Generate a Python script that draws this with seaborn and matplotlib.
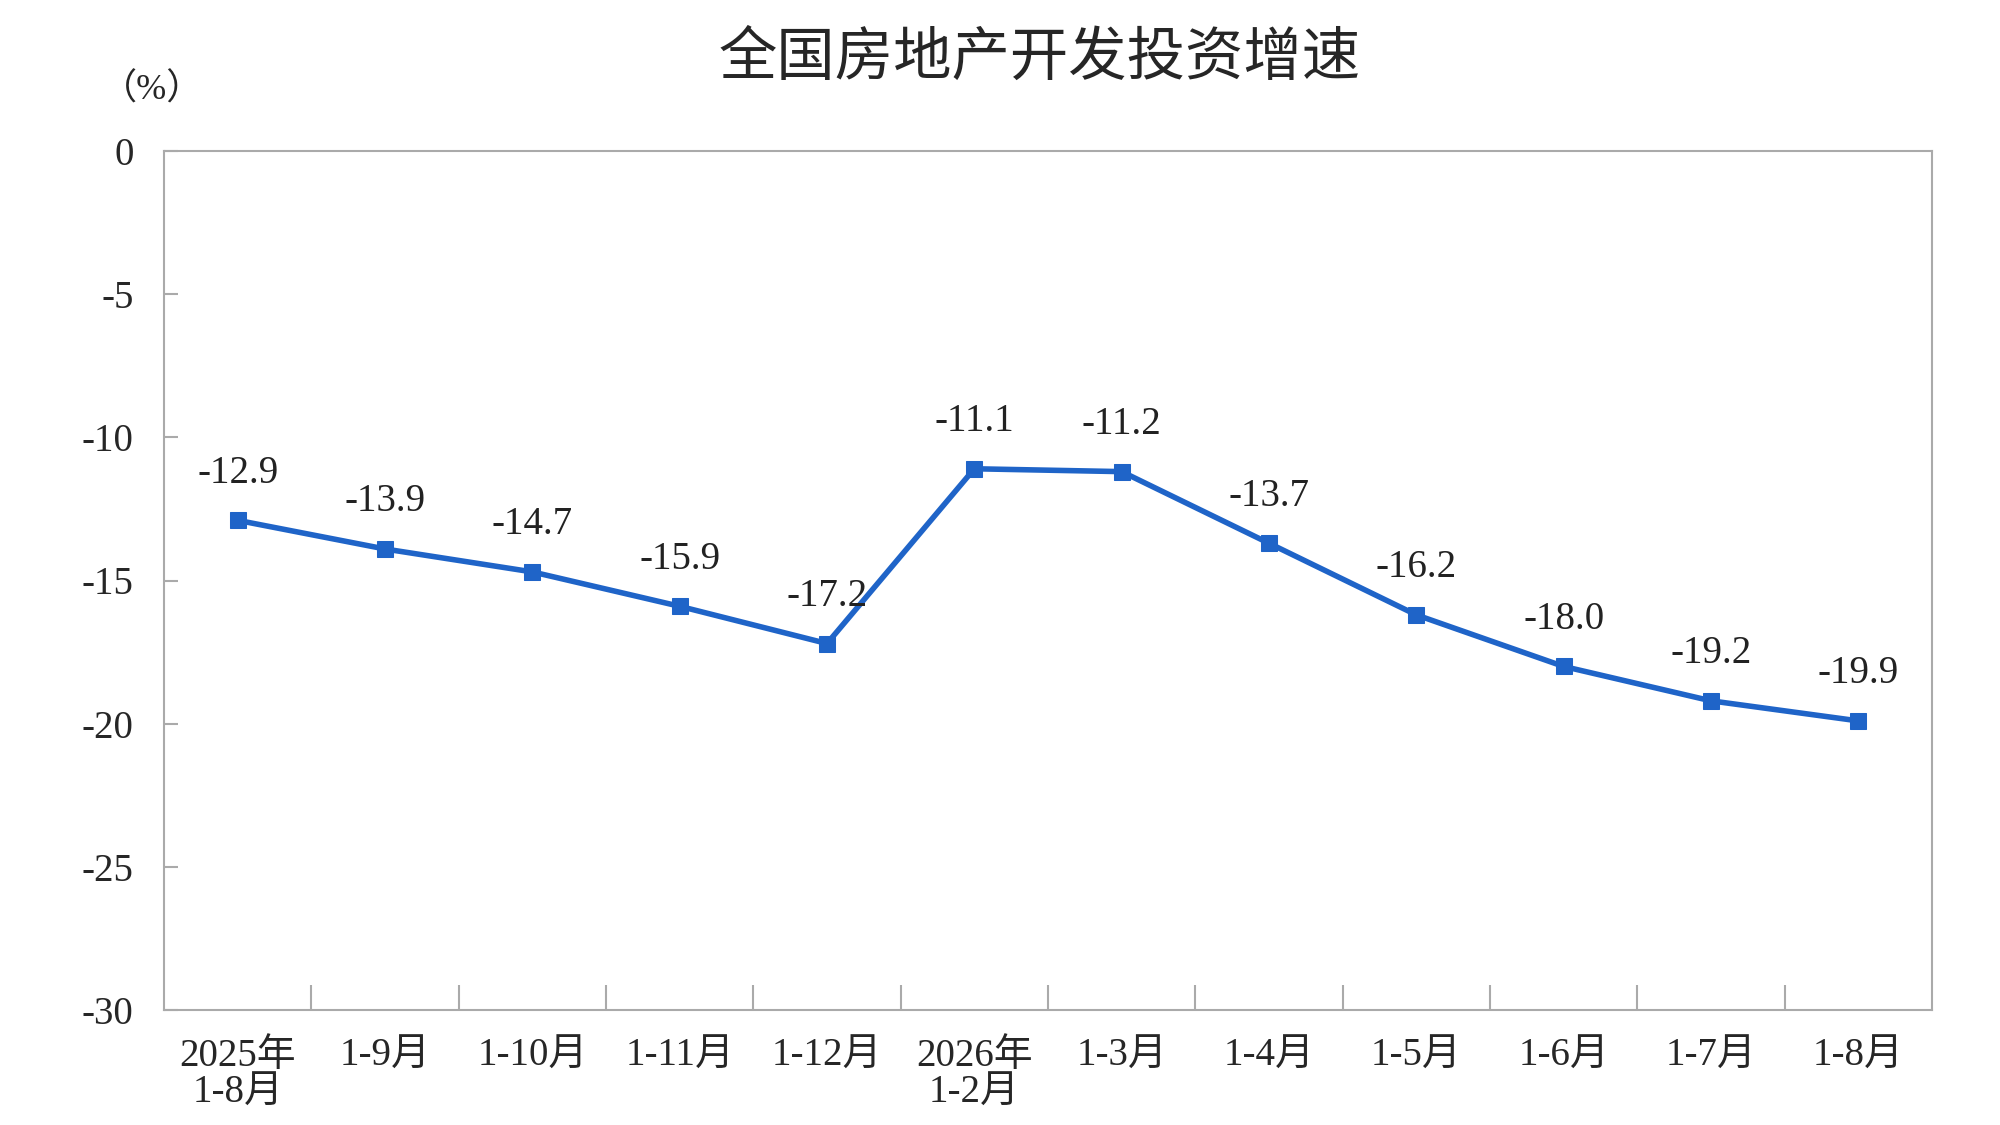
import matplotlib
matplotlib.use("Agg")
import matplotlib.pyplot as plt
import numpy as np
import pandas as pd
import seaborn as sns

months = ["2025年\n1-8月", "1-9月", "1-10月", "1-11月", "1-12月", "2026年\n1-2月",
          "1-3月", "1-4月", "1-5月", "1-6月", "1-7月", "1-8月"]
growth = [-12.9, -13.9, -14.7, -15.9, -17.2, -11.1, -11.2, -13.7, -16.2, -18.0, -19.2, -19.9]
yticks = [0, -5, -10, -15, -20, -25, -30]

sns.set_style("white")
FONT = ["Liberation Serif", "Noto Sans CJK SC"]
plt.rcParams["font.family"] = FONT

df = pd.DataFrame({"month": months, "growth": growth, "pos": np.arange(len(months))})
line_color = "#1f64c8"

fig = plt.figure(figsize=(20, 11.25), dpi=100)
ax = fig.add_axes([0.082, 0.102, 0.884, 0.764])
sns.lineplot(data=df, x="pos", y="growth", ax=ax, color=line_color, linewidth=4,
             marker="s", markersize=11, markeredgecolor=line_color)

for x, y in zip(df["pos"], df["growth"]):
    ax.text(x, y + 1.0, f"{y:.1f}", ha="center", va="bottom", fontsize=28, color="#222222")

ax.set_xlim(-0.5, len(months) - 0.5)
ax.set_ylim(-30, 0)
ax.set_yticks(yticks)
ax.set_yticklabels([str(v) for v in yticks], fontsize=28)
ax.set_xticks(df["pos"])
ax.set_xticklabels(months, fontsize=28, linespacing=1.0)
ax.set_xticks(np.arange(0.5, len(months) - 0.5, 1), minor=True)
ax.tick_params(axis="x", which="major", bottom=True, length=0, pad=20)
ax.tick_params(axis="x", which="minor", bottom=True, direction="in", length=18,
               width=1.5, color="#aaaaaa")
ax.tick_params(axis="y", left=True, direction="in", length=10, width=1.5,
               color="#aaaaaa", pad=22)
for lbl in ax.get_xticklabels() + ax.get_yticklabels():
    lbl.set_family(FONT)
for s in ax.spines.values():
    s.set_color("#aaaaaa")
    s.set_linewidth(1.5)
ax.set_xlabel("")
ax.set_ylabel("")

fig.text(0.076, 0.92, "（%）", fontsize=26, ha="center", va="center", family=FONT)
fig.text(0.52, 0.948, "全国房地产开发投资增速", ha="center", va="center", fontsize=42,
         family=["Noto Sans CJK SC"], fontweight="medium")

fig.savefig("out.png", dpi=100)
